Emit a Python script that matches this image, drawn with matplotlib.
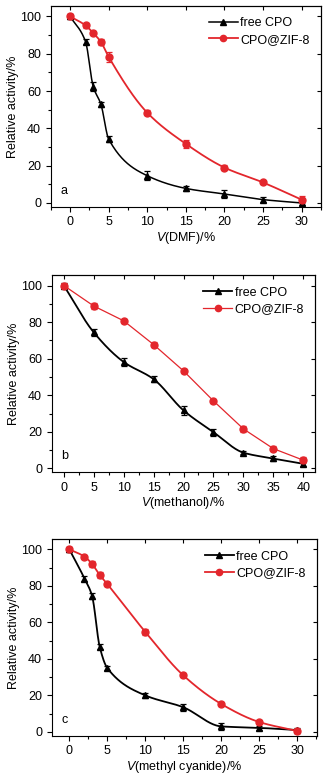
import numpy as np
import matplotlib.pyplot as plt
from matplotlib.ticker import MultipleLocator

plt.rcParams['font.family'] = ['Liberation Sans', 'DejaVu Sans']
plt.rcParams['mathtext.fontset'] = 'custom'
plt.rcParams['mathtext.it'] = 'Liberation Sans:italic'
plt.rcParams['mathtext.rm'] = 'Liberation Sans'

RED = '#e3262c'

# panel a: DMF
x_dmf = [0, 2, 3, 4, 5, 10, 15, 20, 25, 30]
free_dmf = [100, 86.5, 62.3, 52.8, 34.2, 14.6, 7.8, 4.8, 1.8, 0]
free_dmf_err = [1.5, 1.2, 2.5, 1.2, 1.5, 2.5, 1.5, 2.0, 1.5, 1.0]
zif_dmf = [100, 95.2, 91.1, 86.3, 78.3, 48.4, 31.7, 19.0, 11.0, 1.8]
zif_dmf_err = [1.5, 1.5, 1.0, 1.5, 2.5, 1.5, 2.0, 1.5, 1.0, 2.0]

# panel b: methanol
x_meoh = [0, 5, 10, 15, 20, 25, 30, 35, 40]
free_meoh = [100, 74.4, 58.2, 48.8, 31.7, 19.8, 8.6, 5.4, 2.5]
free_meoh_err = [1.5, 2.0, 2.0, 1.5, 2.5, 2.0, 1.0, 1.5, 1.0]
zif_meoh = [100, 88.8, 80.7, 67.7, 53.3, 36.9, 21.6, 10.8, 4.5]
zif_meoh_err = [1.5, 1.5, 1.2, 1.5, 1.2, 1.2, 1.8, 1.5, 1.5]

# panel c: methyl cyanide
x_mecn = [0, 2, 3, 4, 5, 10, 15, 20, 25, 30]
free_mecn = [100, 84.0, 74.5, 46.7, 35.0, 20.0, 13.5, 3.0, 2.2, 1.0]
free_mecn_err = [1.5, 1.2, 1.5, 1.5, 1.2, 1.5, 2.0, 2.0, 1.0, 1.0]
zif_mecn = [100, 96.0, 92.0, 86.0, 81.0, 54.8, 31.0, 15.3, 5.4, 0.5]
zif_mecn_err = [1.5, 1.0, 1.5, 1.5, 1.0, 1.8, 1.0, 1.0, 1.2, 1.0]


def pchip(x, y, xn):
    x = np.asarray(x, float)
    y = np.asarray(y, float)
    h = np.diff(x)
    d = np.diff(y) / h
    m = np.zeros_like(y)
    for k in range(1, len(x) - 1):
        if d[k - 1] * d[k] > 0:
            w1 = 2 * h[k] + h[k - 1]
            w2 = h[k] + 2 * h[k - 1]
            m[k] = (w1 + w2) / (w1 / d[k - 1] + w2 / d[k])
    m[0] = d[0]
    m[-1] = d[-1]
    idx = np.clip(np.searchsorted(x, xn) - 1, 0, len(x) - 2)
    t = (xn - x[idx]) / h[idx]
    h00 = 2 * t**3 - 3 * t**2 + 1
    h10 = t**3 - 2 * t**2 + t
    h01 = -2 * t**3 + 3 * t**2
    h11 = t**3 - t**2
    return h00 * y[idx] + h10 * h[idx] * m[idx] + h01 * y[idx + 1] + h11 * h[idx] * m[idx + 1]


def series(ax, x, y, err, color, marker, smooth, lw, label):
    if smooth:
        xs = np.linspace(x[0], x[-1], 400)
        ax.plot(xs, pchip(x, y, xs), color=color, lw=lw)
    else:
        ax.plot(x, y, color=color, lw=lw)
    ax.errorbar(x, y, yerr=err, fmt=marker, color=color, ms=5,
                elinewidth=0.9, capsize=2, capthick=0.9)
    ax.plot([], [], color=color, lw=lw, marker=marker, ms=4.5, label=label)


def style(ax, xlim, xmajor, xlabel, letter):
    ax.set_xlim(*xlim)
    ax.set_ylim(-2, 105.5)
    ax.xaxis.set_major_locator(MultipleLocator(xmajor))
    ax.xaxis.set_minor_locator(MultipleLocator(xmajor / 2))
    ax.yaxis.set_major_locator(MultipleLocator(20))
    ax.yaxis.set_minor_locator(MultipleLocator(10))
    ax.tick_params(which='both', direction='out', labelsize=9, width=0.8)
    ax.tick_params(which='major', length=3.5)
    ax.tick_params(which='minor', length=2)
    sec_x = ax.secondary_xaxis('top')
    sec_x.set_xticks(ax.get_xticks())
    sec_x.tick_params(direction='in', length=3, labeltop=False, width=0.8)
    sec_y = ax.secondary_yaxis('right')
    sec_y.set_yticks([0, 20, 40, 60, 80, 100])
    sec_y.tick_params(direction='in', length=3, labelright=False, width=0.8)
    for s in ax.spines.values():
        s.set_linewidth(0.8)
    ax.set_ylabel('Relative activity/%', fontsize=9, labelpad=0.5)
    ax.set_xlabel(xlabel, fontsize=9, labelpad=1)
    ax.text(0.035, 0.065, letter, transform=ax.transAxes, fontsize=9)
    ax.legend(loc='upper right', bbox_to_anchor=(1.0, 1.0), frameon=False,
              fontsize=9, handlelength=2.3, handletextpad=0.2,
              labelspacing=0.35)


fig = plt.figure(figsize=(3.28, 7.77), dpi=100)
ax_a = fig.add_axes([0.155, 0.734, 0.823, 0.258])
ax_b = fig.add_axes([0.158, 0.3925, 0.803, 0.253])
ax_c = fig.add_axes([0.158, 0.0534, 0.808, 0.2525])

series(ax_a, x_dmf, free_dmf, free_dmf_err, 'black', '^', True, 1.1, 'free CPO')
series(ax_a, x_dmf, zif_dmf, zif_dmf_err, RED, 'o', True, 1.3, 'CPO@ZIF-8')
style(ax_a, (-2.5, 32.5), 5, r'$\mathit{V}$(DMF)/%', 'a')

series(ax_b, x_meoh, free_meoh, free_meoh_err, 'black', '^', True, 1.3, 'free CPO')
series(ax_b, x_meoh, zif_meoh, zif_meoh_err, RED, 'o', False, 0.9, 'CPO@ZIF-8')
style(ax_b, (-2, 42), 5, r'$\mathit{V}$(methanol)/%', 'b')

series(ax_c, x_mecn, free_mecn, free_mecn_err, 'black', '^', True, 1.3, 'free CPO')
series(ax_c, x_mecn, zif_mecn, zif_mecn_err, RED, 'o', True, 1.3, 'CPO@ZIF-8')
style(ax_c, (-2.3, 32.6), 5, r'$\mathit{V}$(methyl cyanide)/%', 'c')

fig.savefig('out.png', dpi=100)
